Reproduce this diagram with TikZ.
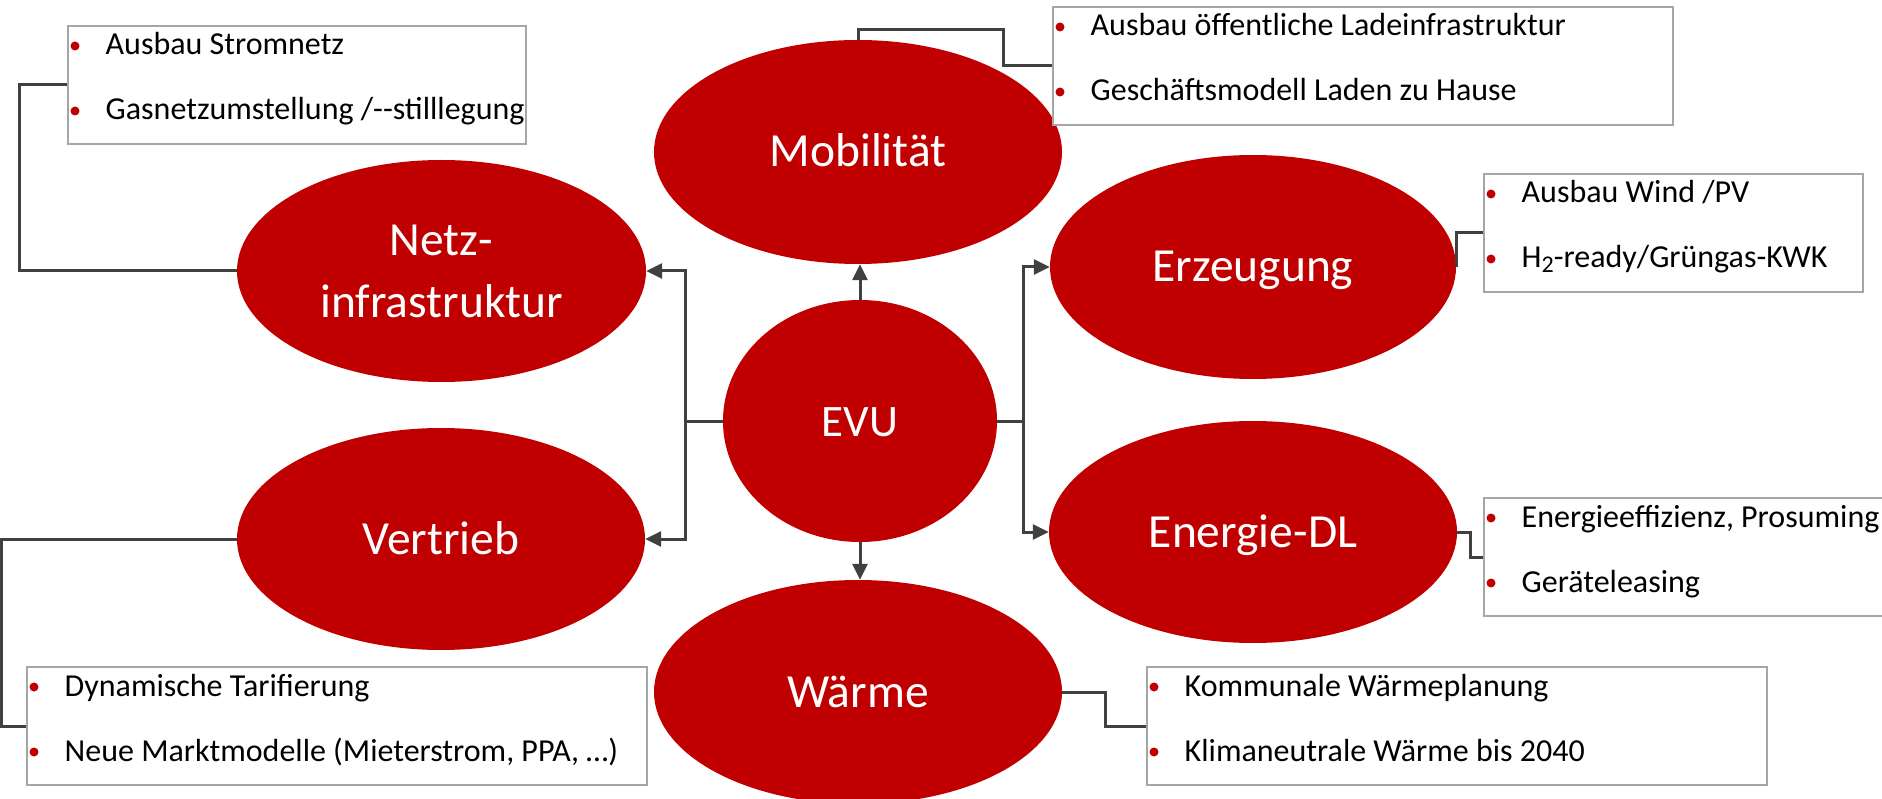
\documentclass[tikz,border=0pt]{standalone}
\usepackage{fontspec}
\setmainfont{Carlito}
\usetikzlibrary{shapes.geometric,arrows.meta}
\definecolor{evured}{HTML}{C00000}
\definecolor{linegray}{HTML}{404040}
\definecolor{boxgray}{HTML}{A6A6A6}
\tikzset{
  blob/.style={ellipse, fill=evured, draw=none, inner sep=0pt, text=white,
    font=\fontsize{47.5}{62}\selectfont, align=center},
  oneline/.style={text height=30pt, text depth=0pt},
  ibox/.style={rectangle, draw=boxgray, line width=2pt, fill=white,
    minimum height=118pt, inner sep=0pt},
  itext/.style={inner sep=0pt, text=black, font=\fontsize{32}{38}\selectfont},
  bul/.style={fill=evured},
  arr/.style={draw=linegray, line width=3pt, -{Triangle[length=16pt,width=15pt]}},
  conn/.style={draw=linegray, line width=3pt},
}
\newcommand\itembox[6]{%
  \node[ibox, minimum width=#4, anchor=north west] (#1) at (#2,#3) {};
  \fill[bul] ({#2+8},{#3+21}) circle (4.5);
  \fill[bul] ({#2+8},{#3+86}) circle (4.5);
  \node[itext, anchor=base west] (#1-a) at ({#2+38.5},{#3+30}) {#5};
  \node[itext, anchor=base west] (#1-b) at ({#2+38.5},{#3+95}) {#6};
}
\begin{document}
\begin{tikzpicture}[x=1pt,y=-1pt]
\useasboundingbox (0,0) rectangle (1882,799);
\clip (0,0) rectangle (1882,799);
\fill[white] (0,0) rectangle (1882,799);

% ellipses
\node[blob, oneline, font=\fontsize{45}{62}\selectfont, minimum width=274, minimum height=242] (evu) at (860,421) {EVU};
\node[blob, oneline, minimum width=408, minimum height=224] (mob) at (858,152) {Mobilität};
\node[blob, minimum width=409, minimum height=222] (netz) at (441.5,271) {Netz-\\infrastruktur};
\node[blob, oneline, minimum width=408, minimum height=222] (vert) at (441,539) {Vertrieb};
\node[blob, oneline, minimum width=406, minimum height=224] (erz) at (1253,267) {Erzeugung};
\node[blob, oneline, minimum width=408, minimum height=222] (edl) at (1253,532) {Energie-DL};
\node[blob, oneline, minimum width=408, minimum height=224] (waerme) at (858,692) {Wärme};

% item boxes
\itembox{nbox}{67}{25}{458}{Ausbau Stromnetz}{Gasnetzumstellung /-{}-stilllegung}
\itembox{mbox}{1052}{6}{620}{Ausbau öffentliche Ladeinfrastruktur}{Geschäftsmodell Laden zu Hause}
\itembox{ebox}{1483}{173}{379}{Ausbau Wind /PV}{H\raisebox{-0.3ex}{\fontsize{24}{24}\selectfont 2}-ready/Grüngas-KWK}
\itembox{dbox}{1483}{497}{430}{Energieeffizienz, Prosuming}{Geräteleasing}
\itembox{wbox}{1146}{666}{620}{Kommunale Wärmeplanung}{Klimaneutrale Wärme bis 2040}
\itembox{vbox}{26}{666}{620}{Dynamische Tarifierung}{Neue Marktmodelle (Mieterstrom, PPA, …)}

% EVU arrows
\coordinate (lx) at (685,421);
\coordinate (rx) at (1023,421);
\draw[conn] (evu.west) -- (lx);
\draw[conn] (evu.east) -- (rx);
\draw[arr] (lx) |- (netz.east);
\draw[arr] (lx) |- (vert.east);
\draw[arr] (rx) |- (erz.west);
\draw[arr] (rx) |- (edl.west);
\draw[arr] (evu.north) -- (evu.north |- mob.south);
\draw[arr] (evu.south) -- (evu.south |- waerme.north);

% box connectors
\coordinate (n1) at (19,271);
\draw[conn] (nbox.west) -| (n1) -- (netz.west);
\coordinate (m1) at (1003,30);
\draw[conn] (mob.north) |- (m1) |- (mbox.west);
\draw[conn] (erz.east) |- (ebox.west);
\coordinate (d1) at (1470,532);
\draw[conn] (edl.east) -- (d1) |- (dbox.west);
\coordinate (w1) at (1105,692);
\draw[conn] (waerme.east) -- (w1) |- (wbox.west);
\coordinate (v1) at (1.5,539);
\draw[conn] (vert.west) -- (v1) |- (vbox.west);
\end{tikzpicture}
\end{document}
